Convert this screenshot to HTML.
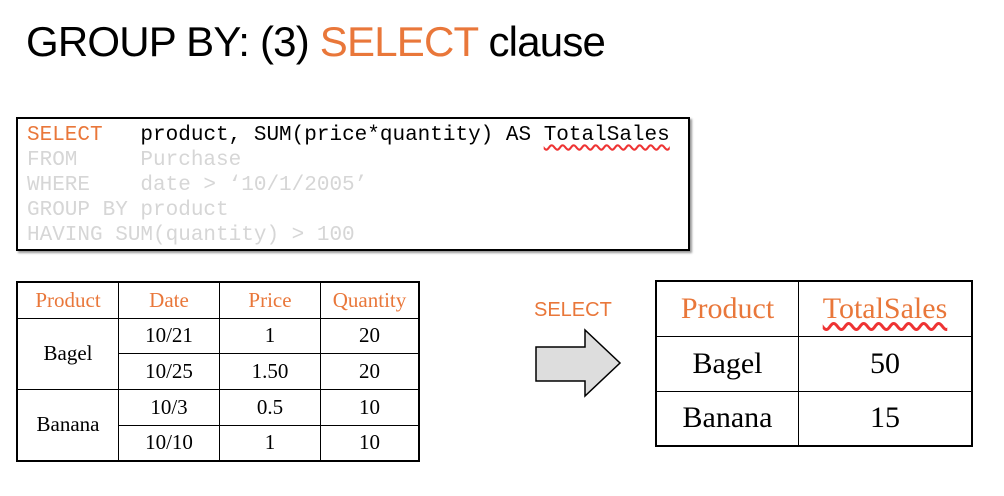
<!DOCTYPE html>
<html><head><style>
body{margin:0;width:1004px;height:496px;background:#fff;position:relative;overflow:hidden;font-family:"Liberation Sans",sans-serif}
.t{position:absolute;white-space:nowrap}
.o{color:#e9773a}
.code{position:absolute;left:16px;top:117px;width:670px;height:130px;border:2px solid #000;box-shadow:2px 2px 2px #999;font-family:"Liberation Mono",monospace;font-size:21px;line-height:25px}
.code div{position:absolute;left:9px;white-space:pre}
.g{color:#d6d6d6}
table{position:absolute;border-collapse:collapse;font-family:"Liberation Serif",serif;text-align:center}
td{border:1px solid #000;padding:0}
</style></head><body>
<div class="t" style="left:26px;top:18px;font-size:42px;letter-spacing:-0.8px">GROUP BY: (3) <span class="o">SELECT</span> clause</div>
<div class="code">
<div style="top:4px"><span class="o">SELECT</span>   product, SUM(price*quantity) AS <span style="text-decoration:underline wavy #e33;text-underline-offset:4px">TotalSales</span></div>
<div class="g" style="top:29px">FROM     Purchase</div>
<div class="g" style="top:54px">WHERE    date &gt; ‘10/1/2005’</div>
<div class="g" style="top:79px">GROUP BY product</div>
<div class="g" style="top:104px">HAVING SUM(quantity) &gt; 100</div>
</div>
<table style="left:16px;top:281px;width:404px;font-size:21px;border:2px solid #000">
<tr style="height:36px" class="o"><td style="width:100px">Product</td><td style="width:100px">Date</td><td style="width:100px">Price</td><td>Quantity</td></tr>
<tr style="height:35px"><td rowspan="2">Bagel</td><td>10/21</td><td>1</td><td>20</td></tr>
<tr style="height:36px"><td>10/25</td><td>1.50</td><td>20</td></tr>
<tr style="height:36px"><td rowspan="2">Banana</td><td>10/3</td><td>0.5</td><td>10</td></tr>
<tr style="height:36px"><td>10/10</td><td>1</td><td>10</td></tr>
</table>
<div class="t o" style="left:534px;top:299px;font-size:20px">SELECT</div>
<svg style="position:absolute;left:530px;top:325px" width="100" height="80"><polygon points="6,22 55,22 55,5 90,38 55,71 55,56 6,56" fill="#ddd" stroke="#000" stroke-width="1.5"/></svg>
<table style="left:655px;top:280px;width:318px;font-size:30px;border:2px solid #000">
<tr style="height:55px" class="o"><td style="width:141px">Product</td><td><span style="text-decoration:underline wavy #e33;text-underline-offset:4px">TotalSales</span></td></tr>
<tr style="height:55px"><td>Bagel</td><td>50</td></tr>
<tr style="height:55px"><td>Banana</td><td>15</td></tr>
</table>
</body></html>
